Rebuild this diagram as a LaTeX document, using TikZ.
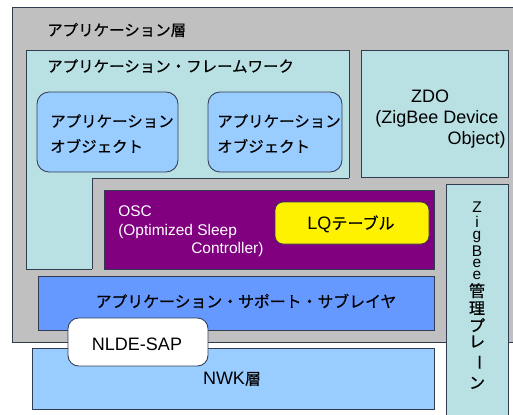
\documentclass[tikz,border=0pt]{standalone}
\usepackage{fontspec}
\usepackage{graphicx}
\setmainfont{Liberation Sans}
\newfontfamily\jp[FakeBold=0.5]{Noto Sans CJK JP}
\definecolor{outergray}{RGB}{192,192,192}
\definecolor{frame}{RGB}{185,225,228}
\definecolor{objblue}{RGB}{153,204,255}
\definecolor{apsblue}{RGB}{102,153,255}
\definecolor{oscpurple}{RGB}{128,0,128}
\definecolor{edge}{RGB}{50,60,80}
\begin{document}
\begin{tikzpicture}[x=0.75pt,y=-0.75pt,
  box/.style={draw=edge, line width=0.65pt},
  jt/.style={font=\jp\fontsize{11.6}{14}\selectfont, inner sep=0pt},
  lt/.style={font=\fontsize{13.5}{16}\selectfont, inner sep=0pt},
  ot/.style={font=\fontsize{11.6}{14}\selectfont, inner sep=0pt, text=white},
  vt/.style={font=\fontsize{11.6}{14}\selectfont, inner sep=0pt}]
\useasboundingbox (0,0) rectangle (513,414);
\clip (0,0) rectangle (513,414);
\fill[white] (0,0) rectangle (513,414);
% layers
\draw[box, fill=outergray] (12,7) rectangle (530,342);
\draw[box, fill=frame] (26,50) rectangle (349,269);
\fill[outergray] (92,178) rectangle (446,275);
\draw[box] (92,269) -- (92,178) -- (349,178);
\draw[box, fill=frame] (361,50) rectangle (508,177);
\draw[box, fill=objblue, rounded corners=9pt] (37,92) rectangle (178,172);
\draw[box, fill=objblue, rounded corners=9pt] (208,92) rectangle (342,172);
\draw[box, fill=oscpurple] (104,190) rectangle (434,269);
\draw[box, fill=yellow, rounded corners=6pt] (275,202) rectangle (429,244);
\draw[box, fill=apsblue] (38,276) rectangle (434,330);
\draw[box, fill=objblue] (32,348) rectangle (434,409);
\draw[box, fill=white, rounded corners=8pt] (68,318) rectangle (208,366);
\draw[box, fill=frame] (446,184) rectangle (508,430);
% texts
\node[jt, anchor=west] (applayer) at (47,30) {アプリケーション層};
\node[jt, anchor=west] (framework) at (47,66) {アプリケーション・フレームワーク};
\node[jt, anchor=west] (obj1a) at (50,121) {アプリケーション};
\node[jt, anchor=west] (obj1b) at (50,146) {オブジェクト};
\node[jt, anchor=west] (obj2a) at (217,121) {アプリケーション};
\node[jt, anchor=west] (obj2b) at (217,146) {オブジェクト};
\node[lt] (zdo1) at (430,96) {ZDO};
\node[lt, anchor=west] (zdo2) at (375,119) {(ZigBee Device};
\node[lt, anchor=east] (zdo3) at (506,140) {Object)};
\node[ot, anchor=west] (osc1) at (118,211) {OSC};
\node[ot, anchor=west] (osc2) at (118,231) {(Optimized Sleep};
\node[ot, anchor=west] (osc3) at (191,249) {Controller)};
\node[lt] (lq) at (351,224) {LQ{\jp\fontsize{12}{14}\selectfont テーブル}};
\node[jt, font=\jp\fontsize{11.9}{14}\selectfont] (aps) at (246,301) {アプリケーション・サポート・サブレイヤ};
\node[lt] (nlde) at (137,344) {NLDE-SAP};
\node[lt] (nwk) at (232,379) {NWK{\jp\fontsize{12}{14}\selectfont 層}};
% vertical text
\node[vt, anchor=north] (plane) at (477,202) {\vbox{\baselineskip=0pt\lineskiplimit=0pt\lineskip=2.5pt
  \halign{\hfil#\hfil\cr
  Z\cr i\cr g\cr B\cr e\cr e\cr
  {\jp\fontsize{12}{14}\selectfont 管}\cr
  {\jp\fontsize{12}{14}\selectfont 理}\cr
  {\jp\fontsize{12}{14}\selectfont プ}\cr
  {\jp\fontsize{12}{14}\selectfont レ}\cr
  \noalign{\vskip2.5pt}
  \rotatebox{-90}{\jp\fontsize{12}{14}\selectfont ー}\cr
  \noalign{\vskip2.5pt}
  {\jp\fontsize{12}{14}\selectfont ン}\cr}}};
\end{tikzpicture}
\end{document}
